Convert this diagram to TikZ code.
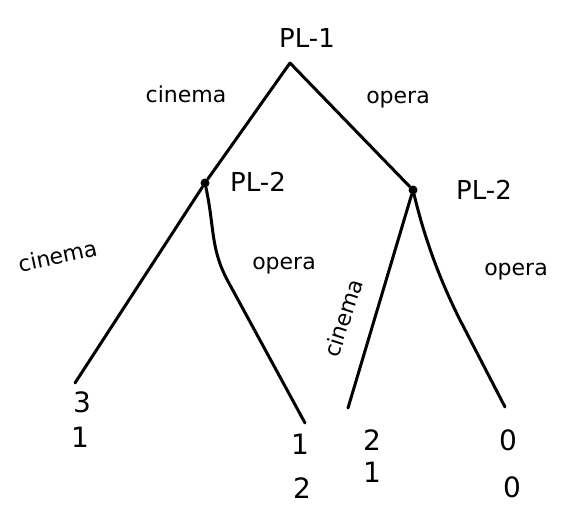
\documentclass[tikz,border=0pt]{standalone}
\usepackage{fontspec}
\setmainfont{DejaVu Sans}
\begin{document}
\begin{tikzpicture}[x=1pt,y=-1pt,
  branch/.style={line width=3pt,line cap=round},
  lbl/.style={font=\fontsize{22}{24}\selectfont,inner sep=1pt},
  plbl/.style={font=\fontsize{26}{28}\selectfont,inner sep=1pt},
  pay/.style={font=\fontsize{28}{30}\selectfont,inner sep=1pt},
  dot/.style={circle,fill,inner sep=0pt,minimum size=9pt}]
\useasboundingbox[fill=white] (0,0) rectangle (586,511);
\coordinate (root) at (290,63);
\node[dot] (l) at (205,183) {};
\node[dot] (r) at (413,190) {};
\coordinate (ll) at (75,383);
\coordinate (lr) at (305,423);
\coordinate (rl) at (348,408);
\coordinate (rr) at (505,407);
\node[plbl] (p1) at (307,38) {PL-1};
\node[plbl] (p2l) at (258,182) {PL-2};
\node[plbl] (p2r) at (484,190) {PL-2};
\draw[branch] (root) -- (l);
\draw[branch] (root) -- (r);
\draw[branch] (l) -- (ll);
\draw[branch] (l) .. controls (215,230) and (210,250) .. (230,285) -- (lr);
\draw[branch] (r) -- (rl);
\draw[branch] (r) .. controls (425,240) and (440,280) .. (460,320) -- (rr);
\node[lbl] (c1) at (186,94) {cinema};
\node[lbl] (o1) at (398,100) {opera};
\node[lbl,rotate=12] (c2) at (58,256) {cinema};
\node[lbl] (o2) at (284,266) {opera};
\node[lbl,rotate=72] (c3) at (343,318) {cinema};
\node[lbl] (o3) at (516,272) {opera};
\node[pay] (a1) at (82,402) {3};
\node[pay] (a2) at (80,437) {1};
\node[pay] (b1) at (300,444) {1};
\node[pay] (b2) at (302,488) {2};
\node[pay] (c1p) at (372,440) {2};
\node[pay] (c2p) at (372,472) {1};
\node[pay] (d1) at (508,440) {0};
\node[pay] (d2) at (512,487) {0};
\end{tikzpicture}
\end{document}
